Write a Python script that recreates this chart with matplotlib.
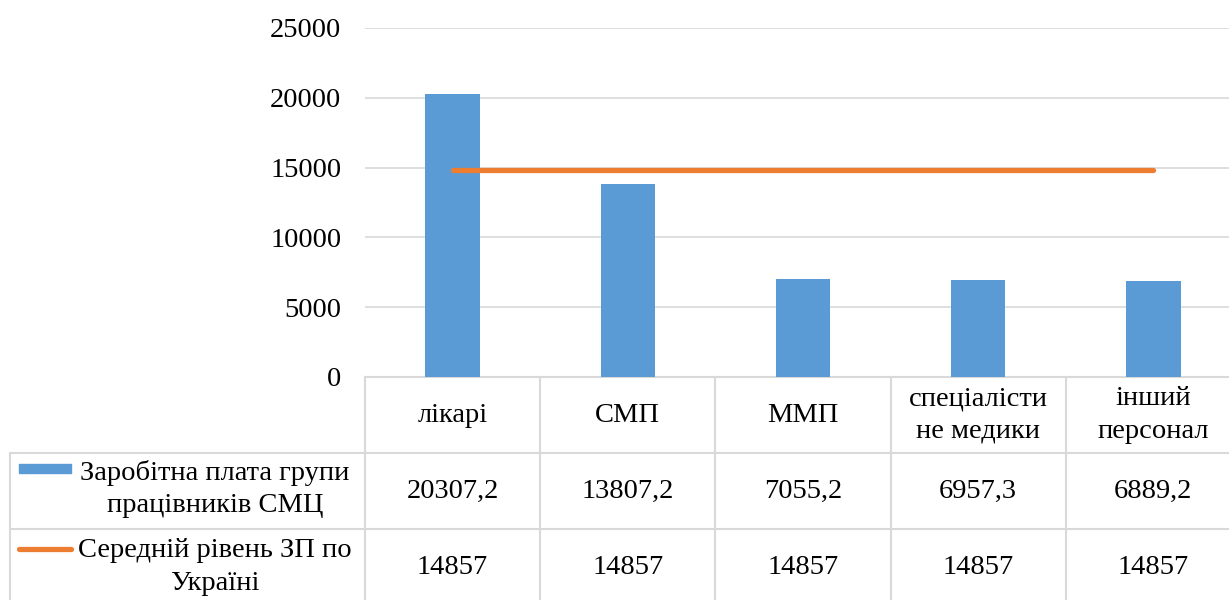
import matplotlib
matplotlib.use("Agg")
import matplotlib.pyplot as plt
from matplotlib.transforms import blended_transform_factory
from matplotlib.patches import Rectangle
from matplotlib.lines import Line2D

plt.rcParams["font.family"] = ["Liberation Serif", "DejaVu Serif"]

categories = ["лікарі", "СМП", "ММП", "спеціалісти\nне медики", "інший\nперсонал"]
salary_smc = [20307.2, 13807.2, 7055.2, 6957.3, 6889.2]
salary_ukraine = [14857, 14857, 14857, 14857, 14857]
series_names = ["Заробітна плата групи\nпрацівників СМЦ", "Середній рівень ЗП по\nУкраїні"]
yticks = [0, 5000, 10000, 15000, 20000, 25000]

BLUE = "#5B9BD5"
ORANGE = "#ED7D31"
GRID = "#D9D9D9"
FS = 20.5
LS = 1.42

W, H = 1229, 600
fig = plt.figure(figsize=(W / 100, H / 100), dpi=100)

def fy(py):
    return 1 - py / H

def fx(px):
    return px / W

ax = fig.add_axes([fx(365), fy(377), fx(1241) - fx(365), fy(28) - fy(377)])
x = list(range(len(categories)))
ax.bar(x, salary_smc, width=0.31, color=BLUE, zorder=3)
ax.plot(x, salary_ukraine, color=ORANGE, lw=3.8, solid_capstyle="round", zorder=4)

ax.set_xlim(-0.5, len(categories) - 0.5)
ax.set_ylim(0, 25000)
ax.set_yticks(yticks)
ax.set_yticklabels([str(v) for v in yticks], fontsize=FS)
ax.tick_params(axis="y", length=0, pad=17)
ax.set_xticks([])
ax.grid(axis="y", color=GRID, lw=1.2, zorder=0)
for s in ax.spines.values():
    s.set_visible(False)

# data table under the axis
tr = blended_transform_factory(ax.transData, fig.transFigure)
rows = [377, 453, 529, 605]
edges = [i - 0.5 for i in range(len(categories) + 1)]

for r in rows:
    ax.add_line(Line2D([edges[0], edges[-1]], [fy(r), fy(r)], transform=tr,
                       color=GRID, lw=1.5, clip_on=False))
for e in edges:
    ax.add_line(Line2D([e, e], [fy(377), fy(605)], transform=tr,
                       color=GRID, lw=1.5, clip_on=False))
# left header column of the table
for r in rows[1:]:
    fig.add_artist(Line2D([fx(10), fx(365)], [fy(r), fy(r)], color=GRID, lw=1.5))
fig.add_artist(Line2D([fx(10), fx(10)], [fy(453), fy(605)], color=GRID, lw=1.5))

for i, c in enumerate(categories):
    ax.text(i, fy(415), c, transform=tr, ha="center", va="center",
            fontsize=FS, linespacing=LS, clip_on=False)
    ax.text(i, fy(491), f"{salary_smc[i]:.1f}".replace(".", ","), transform=tr,
            ha="center", va="center", fontsize=FS, clip_on=False)
    ax.text(i, fy(567), f"{salary_ukraine[i]}", transform=tr,
            ha="center", va="center", fontsize=FS, clip_on=False)

# series labels with legend keys
fig.add_artist(Rectangle((fx(19), fy(473)), fx(71) - fx(19), fy(464) - fy(473),
                         color=BLUE))
fig.text(fx(215), fy(489), series_names[0], ha="center", va="center",
         fontsize=FS, linespacing=LS)
fig.add_artist(Line2D([fx(19), fx(71)], [fy(549), fy(549)], color=ORANGE,
                      lw=3.8, solid_capstyle="round"))
fig.text(fx(215), fy(567), series_names[1], ha="center", va="center",
         fontsize=FS, linespacing=LS)

fig.savefig("out.png", dpi=100)
